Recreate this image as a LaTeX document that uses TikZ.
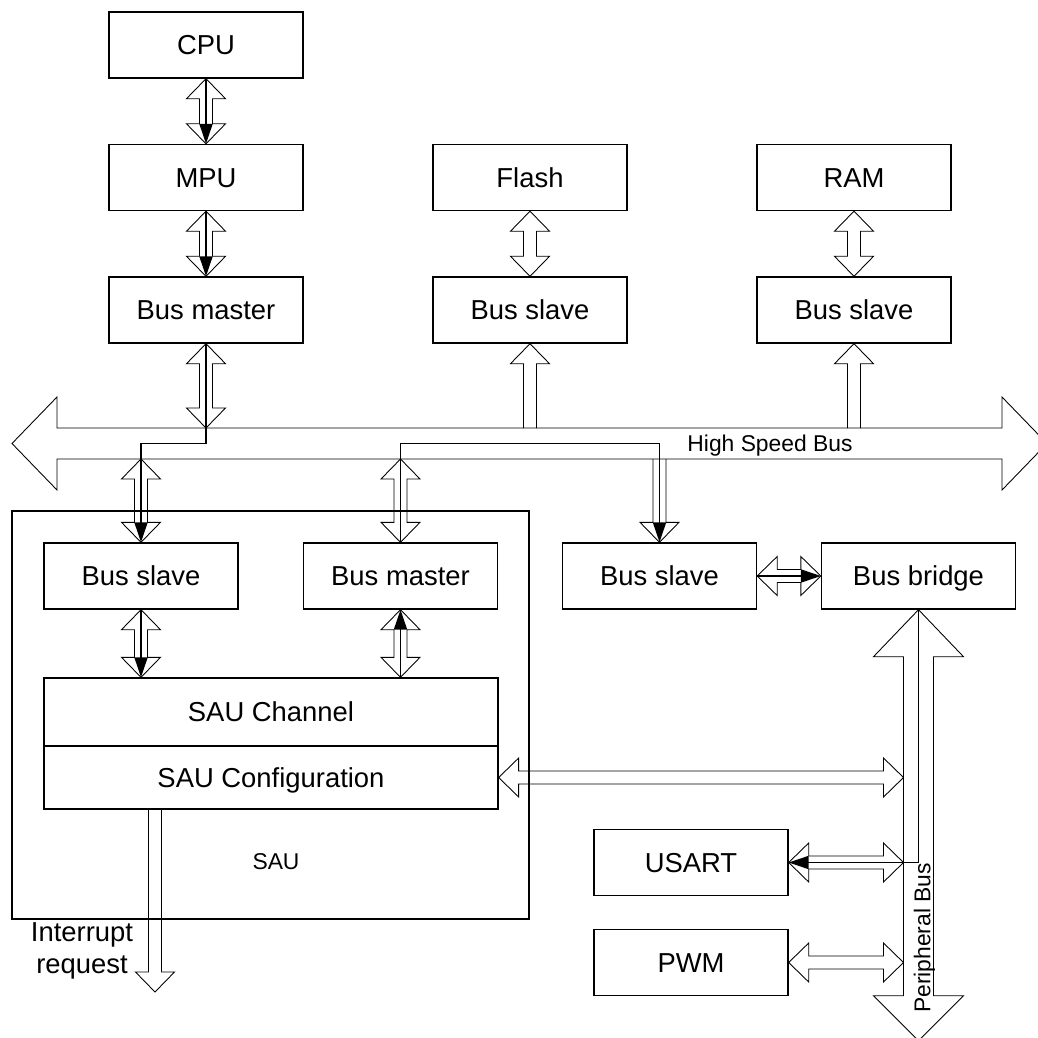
\documentclass[tikz,border=0pt]{standalone}
\usepackage{fontspec}
\setmainfont{Liberation Sans}
\usetikzlibrary{arrows.meta}

\begin{document}
\begin{tikzpicture}[x=0.02cm, y=-0.02cm, line join=miter,
    box/.style={draw, line width=0.8pt, minimum width=3.88cm, minimum height=1.32cm,
                inner sep=0pt, text height=14pt, text depth=2.8pt,
                font=\fontsize{15.6}{18}\selectfont},
    small/.style={inner sep=0pt, text height=11.7pt, text depth=2.3pt,
                  font=\fontsize{13}{15}\selectfont},
    bus/.style={draw, line width=0.5pt},
    flow/.style={line width=1.1pt, -{Triangle[length=0.4cm, width=0.26cm]}},
    vbi/.style={bus, to path={(\tikztostart) -- ++(19.5,20) -- ++(-13,0)
        -- ([shift={(6.5,-20)}]\tikztotarget) -- ++(13,0) -- (\tikztotarget)
        -- ++(-19.5,-20) -- ++(13,0) -- ([shift={(-6.5,20)}]\tikztostart)
        -- ++(-13,0) -- cycle}},
    vup/.style={bus, to path={([shift={(-6.5,0)}]\tikztostart)
        -- ([shift={(-6.5,20)}]\tikztotarget) -- ++(-13,0) -- (\tikztotarget)
        -- ++(19.5,20) -- ++(-13,0) -- ([shift={(6.5,0)}]\tikztostart)}},
    vdown/.style={bus, to path={([shift={(-6.5,0)}]\tikztostart)
        -- ([shift={(-6.5,-20)}]\tikztotarget) -- ++(-13,0) -- (\tikztotarget)
        -- ++(19.5,-20) -- ++(-13,0) -- ([shift={(6.5,0)}]\tikztostart)}},
    hbi/.style={bus, to path={(\tikztostart) -- ++(20,-19.5) -- ++(0,13)
        -- ([shift={(-20,-6.5)}]\tikztotarget) -- ++(0,-13) -- (\tikztotarget)
        -- ++(-20,19.5) -- ++(0,-13) -- ([shift={(20,6.5)}]\tikztostart)
        -- ++(0,13) -- cycle}}]
    \useasboundingbox (0,0) rectangle (1038,1038);

    \node[box](cpu) at (206, 45) {CPU};
    \node[box](mpu) at (206, 177.5) {MPU};
    \node[box](bm) at (206, 310) {Bus master};
    \node[box](flash) at (530, 177.5) {Flash};
    \node[box](fslave) at (530, 310) {Bus slave};
    \node[box](ram) at (854, 177.5) {RAM};
    \node[box](rslave) at (854, 310) {Bus slave};

    \node[draw, line width=0.8pt, minimum width=10.34cm, minimum height=8.16cm,
          inner sep=0pt](sau) at (270.5, 715) {};
    \node[box](sslave) at (141, 576) {Bus slave};
    \node[box](smaster) at (400.5, 576) {Bus master};
    \node[box, minimum width=9.08cm, minimum height=1.36cm](chan) at (271, 712) {SAU Channel};
    \node[box, minimum width=9.08cm, minimum height=1.26cm](config) at (271, 777.5) {SAU Configuration};
    \node[small](saulabel) at (276, 861) {SAU};

    \node[box](bslave) at (659.5, 576) {Bus slave};
    \node[box](bridge) at (918.5, 576) {Bus bridge};
    \node[box](usart) at (691, 862.5) {USART};
    \node[box](pwm) at (691, 962.5) {PWM};

    \coordinate(hsbT) at (0, 428);
    \coordinate(hsbM) at (0, 443.5);
    \coordinate(hsbB) at (0, 459);
    \coordinate(pbL) at (903.5, 0);
    \coordinate(irq) at (155, 992);

    \draw[bus] (12,443.5) -- (57,397) -- (57,428) -- (1002,428) -- (1002,397) -- (1047,443.5)
               -- (1002,490) -- (1002,459) -- (57,459) -- (57,490) -- cycle;
    \node[small](hsb) at (770, 443.5) {High Speed Bus};

    \draw[bus] (bridge.south) -- ++(45,47) -- ++(-30,0) -- ++(0,339) -- ++(30,0) -- ++(-45,45)
               -- ++(-45,-45) -- ++(30,0) -- ++(0,-339) -- ++(-30,0) -- cycle;
    \node[small, rotate=90](pb) at (922, 938) {Peripheral Bus};

    \coordinate(bmB) at (bm.south |- hsbT);
    \coordinate(fsB) at (fslave.south |- hsbT);
    \coordinate(rsB) at (rslave.south |- hsbT);
    \coordinate(ssT) at (sslave.north |- hsbB);
    \coordinate(smT) at (smaster.north |- hsbB);
    \coordinate(bsT) at (bslave.north |- hsbB);
    \coordinate(chS) at (sslave.south |- chan.north);
    \coordinate(chM) at (smaster.south |- chan.north);
    \coordinate(cfgR) at (config.east -| pbL);
    \coordinate(usR) at (usart.east -| pbL);
    \coordinate(pwR) at (pwm.east -| pbL);
    \coordinate(cfgI) at (config.south -| irq);

    \draw[vbi] (cpu.south) to (mpu.north);
    \draw[vbi] (mpu.south) to (bm.north);
    \draw[vbi] (bm.south) to (bmB);
    \draw[vbi] (flash.south) to (fslave.north);
    \draw[vbi] (ram.south) to (rslave.north);
    \draw[vup] (fsB) to (fslave.south);
    \draw[vup] (rsB) to (rslave.south);
    \draw[vbi] (ssT) to (sslave.north);
    \draw[vbi] (smT) to (smaster.north);
    \draw[vdown] (bsT) to (bslave.north);
    \draw[vbi] (sslave.south) to (chS);
    \draw[vbi] (smaster.south) to (chM);
    \draw[vdown] (cfgI) to (irq);
    \draw[hbi] (bslave.east) to (bridge.west);
    \draw[hbi] (config.east) to (cfgR);
    \draw[hbi] (usart.east) to (usR);
    \draw[hbi] (pwm.east) to (pwR);

    \node[align=center, font=\fontsize{15.6}{18}\selectfont](irqlabel) at (82, 951) {Interrupt\\request};

    \draw[flow] (cpu.south) -- (mpu.north);
    \draw[flow] (mpu.south) -- (bm.north);
    \draw[flow] (bm.south) |- (ssT |- hsbM) -- (sslave.north);
    \draw[flow] (smaster.north) |- (bsT |- hsbM) -- (bslave.north);
    \draw[flow] (sslave.south) -- (chS);
    \draw[flow] (chM) -- (smaster.south);
    \draw[flow] (bslave.east) -- (bridge.west);
    \draw[flow] (bridge.south) |- (usart.east);
\end{tikzpicture}
\end{document}
